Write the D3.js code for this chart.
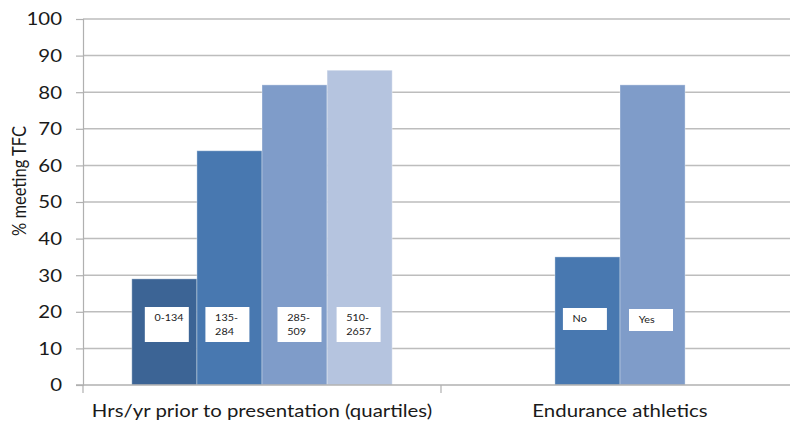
<!DOCTYPE html>
<html>
<head>
<meta charset="utf-8">
<script src="https://cdn.jsdelivr.net/npm/d3@7/dist/d3.min.js"></script>
<style>
  html, body { margin: 0; padding: 0; background: #fff; }
  svg { display: block; }
  text { font-family: Lato, "Open Sans", sans-serif; fill: #1a1a1a; }
</style>
</head>
<body>
<svg id="chart" width="790" height="428"></svg>
<script>
// Category groups along the x axis
const groups = ["Hrs/yr prior to presentation (quartiles)", "Endurance athletics"];

// Bars per group: label shown in the white box and % meeting TFC
const quartileLabels = [["0-134"], ["135-", "284"], ["285-", "509"], ["510-", "2657"]];
const quartileValues = [29, 64, 82, 86];
const athleticsLabels = [["No"], ["Yes"]];
const athleticsValues = [35, 82];

// Fill for each bar position
const quartileColors = ["#3c6495", "#4878b0", "#7f9cc9", "#b5c4df"];
const athleticsColors = ["#4878b0", "#7f9cc9"];

const yTicks = [0, 10, 20, 30, 40, 50, 60, 70, 80, 90, 100];
const yTitle = "% meeting TFC";

const svg = d3.select("#chart");
const margin = { left: 83, right: -9, top: 19, bottom: 43 };
const W = 790, H = 428;
const innerTop = margin.top, innerBottom = H - margin.bottom;
const stretch = 1.2; // horizontal widening of the wide-set labels

const x = d3.scaleBand().domain(groups).range([margin.left, W - margin.right]).padding(0);
const y = d3.scaleLinear().domain([0, 100]).range([innerBottom, innerTop]);

// Gridlines
svg.append("g")
  .selectAll("line")
  .data(yTicks.filter(d => d > 0))
  .join("line")
  .attr("x1", margin.left).attr("x2", W)
  .attr("y1", d => y(d)).attr("y2", d => y(d))
  .attr("stroke", "#bdbdbd").attr("stroke-width", 1.5);

// Y axis
const yAxis = d3.axisLeft(y).tickValues(yTicks).tickSize(7);
const gy = svg.append("g").attr("transform", `translate(${margin.left},0)`).call(yAxis);
gy.select(".domain").attr("stroke", "#b0b0b0").attr("stroke-width", 1.2);
gy.selectAll(".tick line").attr("stroke", "#b0b0b0").attr("stroke-width", 1.2);
gy.selectAll(".tick text")
  .attr("font-size", "17px")
  .attr("font-family", "Lato, sans-serif")
  .attr("fill", "#1a1a1a")
  .attr("x", -21 / stretch)
  .attr("dy", "0.35em")
  .attr("transform", `scale(${stretch},1)`);

// Y axis title
svg.append("text")
  .attr("transform", `translate(26,181) scale(${stretch},1) rotate(-90)`)
  .attr("text-anchor", "middle")
  .attr("font-size", "16.5px")
  .text(yTitle);

// Bars
const step = x.bandwidth();
const barW = step / 5.5;

function drawGroup(groupName, values, labels, colors, boxOffsets) {
  const n = values.length;
  const inner = d3.scaleBand()
    .domain(d3.range(n))
    .range([x(groupName) + step / 2 - n * barW / 2, x(groupName) + step / 2 + n * barW / 2])
    .padding(0);
  const g = svg.append("g");
  g.selectAll("rect.bar")
    .data(values)
    .join("rect")
    .attr("class", "bar")
    .attr("x", (d, i) => inner(i))
    .attr("y", d => y(d))
    .attr("width", inner.bandwidth())
    .attr("height", d => y(0) - y(d))
    .attr("fill", (d, i) => colors[i])
    .attr("stroke", "rgba(255,255,255,0.35)")
    .attr("stroke-width", 1);

  // Label boxes
  const boxes = g.selectAll("g.lbl")
    .data(labels)
    .join("g")
    .attr("class", "lbl")
    .attr("transform", (d, i) => `translate(${inner(i) + boxOffsets[i].dx},${boxOffsets[i].y})`);
  boxes.append("rect")
    .attr("width", 44)
    .attr("height", (d, i) => boxOffsets[i].h || 35)
    .attr("fill", "#fff");
  boxes.each(function(lines) {
    const t = d3.select(this).append("text")
      .attr("font-size", "10px")
      .attr("transform", "scale(1.08,1)");
    lines.forEach((ln, k) => {
      t.append("tspan").attr("x", 9).attr("y", 14 + k * 14).text(ln);
    });
  });
}

drawGroup(groups[0], quartileValues, quartileLabels, quartileColors, [
  { dx: 13, y: 307 }, { dx: 8.5, y: 307 }, { dx: 15.5, y: 307 }, { dx: 9.5, y: 307 }
]);
drawGroup(groups[1], athleticsValues, athleticsLabels, athleticsColors, [
  { dx: 8, y: 308, h: 22 }, { dx: 9, y: 309, h: 22 }
]);

// X axis line and category ticks
svg.append("line")
  .attr("x1", margin.left - 7).attr("x2", W)
  .attr("y1", y(0)).attr("y2", y(0))
  .attr("stroke", "#b0b0b0").attr("stroke-width", 1.5);
svg.append("g")
  .selectAll("line")
  .data([margin.left, x(groups[1])])
  .join("line")
  .attr("x1", d => d).attr("x2", d => d)
  .attr("y1", y(0)).attr("y2", y(0) + 8)
  .attr("stroke", "#b0b0b0").attr("stroke-width", 1.2);

// Category labels
svg.append("g")
  .selectAll("text")
  .data(groups)
  .join("text")
  .attr("x", d => (x(d) + step / 2) / stretch)
  .attr("y", 417)
  .attr("transform", `scale(${stretch},1)`)
  .attr("text-anchor", "middle")
  .attr("font-size", "17px")
  .text(d => d);
</script>
</body>
</html>
